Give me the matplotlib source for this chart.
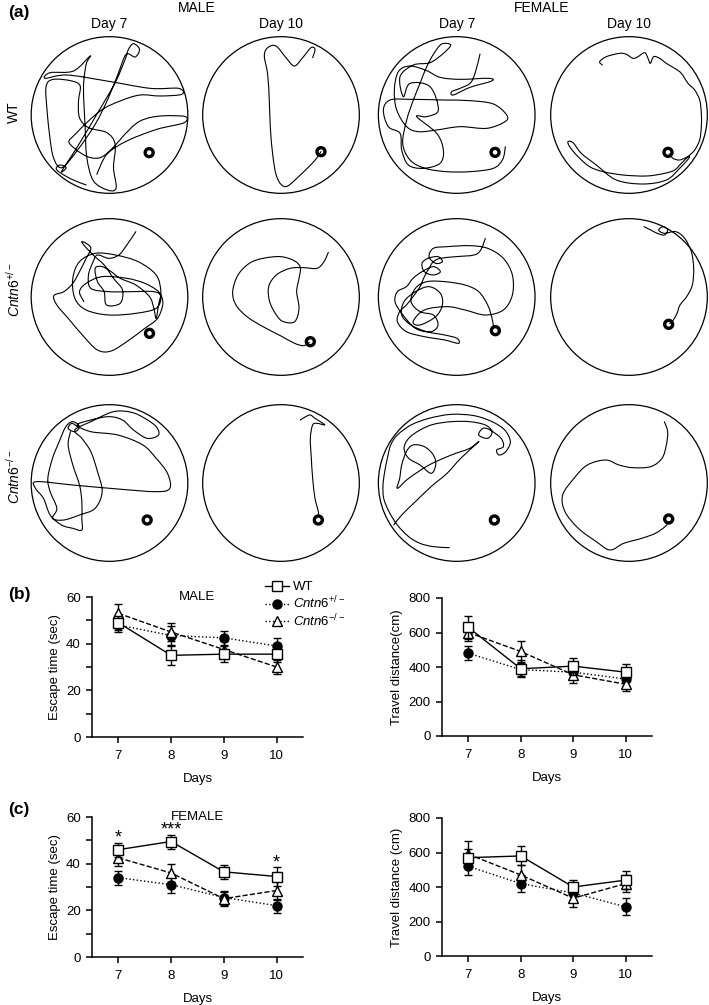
import numpy as np
import matplotlib.pyplot as plt
from matplotlib.path import Path
from matplotlib.patches import Circle, PathPatch
from matplotlib.lines import Line2D

plt.rcParams['font.family'] = ['Liberation Sans', 'DejaVu Sans']
plt.rcParams['mathtext.fontset'] = 'custom'
plt.rcParams['mathtext.rm'] = 'Liberation Sans'
plt.rcParams['mathtext.it'] = 'Liberation Sans:italic'

# ---- (a) swim paths, arena units (pool radius = 235) ----
ARENA_R = 235
wt_m7 = [(-70, -210), (-113, -193), (-148, -173), (-160, -160), (-148, -150), (-130, -158),
         (-143, -168), (-98, -98), (-38, 2), (17, 97), (47, 167), (57, 197), (72, 214),
         (90, 197), (77, 174), (50, 182), (27, 127), (-3, 52), (-43, -28), (-98, -108),
         (-143, -158), (-168, -128), (-180, -58), (-188, 22), (-190, 87), (-168, 107),
         (-113, 102), (-88, 87), (-93, 42), (-90, -8), (-63, -38), (-8, -53), (17, -88),
         (12, -158), (20, -218), (-3, -226), (-48, -198), (-68, -128), (-73, -38), (-78, 82),
         (-70, 152), (-58, 177), (-108, 132), (-178, 127), (-193, 110), (-128, 120), (-8, 102),
         (122, 80), (207, 80), (217, 62), (152, 57), (92, 60), (32, 42), (-28, 12), (-98, -53),
         (-118, -88), (-28, -128), (92, -18), (217, -3), (224, -23), (142, -43), (52, -78),
         (-8, -118), (-38, -178)]
wt_m10 = [(120, -110), (100, -138), (60, -178), (20, -213), (0, -208), (-15, -178), (-25, -118),
          (-32, -38), (-35, 42), (-40, 122), (-50, 177), (-40, 202), (-15, 207), (15, 172),
          (40, 147), (65, 172), (90, 202), (102, 197), (95, 172)]
wt_f7 = [(70, 183), (55, 125), (40, 95), (10, 80), (-15, 70), (-10, 60), (40, 83), (105, 102),
         (95, 110), (10, 107), (-50, 113), (-90, 133), (-140, 147), (-175, 130), (-187, 75),
         (-180, 15), (-150, -35), (-115, -50), (-60, -45), (10, -35), (90, -40), (145, -20),
         (150, 0), (110, 33), (40, 43), (-40, 45), (-140, 47), (-200, 45), (-220, 15),
         (-205, -35), (-170, -55), (-165, -105), (-145, -150), (-100, -160), (-50, -145),
         (-40, -105), (-60, -55), (-120, -5), (-90, -5), (-55, 15), (-80, 85), (-140, 95),
         (-160, 55), (-170, 115), (-130, 150), (-80, 157), (-40, 185), (-18, 210), (-45, 213),
         (-68, 185), (-90, 145), (-110, 95), (-130, 45), (-150, -15), (-162, -85), (-140, -135),
         (-95, -160), (-30, -170), (40, -170), (110, -160), (138, -133), (146, -95)]
wt_f10 = [(-80, 150), (-88, 160), (-68, 175), (-28, 185), (-8, 182), (12, 170), (27, 175),
          (47, 187), (57, 170), (64, 155), (74, 175), (92, 170), (112, 155), (137, 140),
          (157, 125), (177, 95), (197, 75), (212, 45), (217, 5), (217, -35), (212, -75),
          (197, -105), (177, -125), (157, -145), (137, -165), (107, -175), (52, -183),
          (-18, -180), (-78, -170), (-118, -155), (-153, -125), (-178, -95), (-183, -80),
          (-168, -83), (-143, -115), (-98, -150), (-38, -195), (42, -207), (112, -195),
          (152, -160), (182, -125), (152, -135), (132, -130), (122, -117)]
het_m7 = [(79, 196), (52, 156), (28, 126), (-2, 116), (-36, 126), (-49, 106), (-63, 66), (-56, 26),
          (-2, 16), (66, 16), (133, 16), (154, 1), (140, -34), (79, -49), (-2, -54), (-70, -39),
          (-104, -4), (-110, 56), (-90, 106), (-43, 131), (18, 126), (86, 106), (140, 66),
          (154, 16), (147, -24), (140, -64), (133, -34), (120, 1), (79, 36), (32, 56), (5, 76),
          (-22, 91), (-43, 86), (-36, 46), (-16, 16), (-9, -24), (32, -19), (39, 21), (12, 56),
          (-16, 96), (-49, 126), (-77, 156), (-83, 166), (-70, 161), (-56, 146), (-70, 116),
          (-90, 76), (-110, 41), (-137, 16), (-167, 4), (-158, -24), (-124, -64), (-77, -119),
          (-36, -159), (5, -162), (59, -129), (106, -94), (140, -69), (154, -44), (160, -14),
          (147, 16), (106, 41), (52, 56), (-22, 61), (-70, 41), (-90, 16), (-77, -14)]
het_m10 = [(142, 134), (129, 106), (108, 86), (68, 88), (27, 86), (-14, 66), (-37, 31), (-34, -14),
           (-14, -54), (7, -74), (41, -74), (54, -34), (47, 16), (54, 56), (58, 88), (41, 108),
           (0, 121), (-54, 116), (-95, 101), (-129, 66), (-145, 16), (-135, -24), (-102, -59),
           (-54, -89), (0, -117), (41, -139), (68, -146), (85, -136)]
het_f7 = [(86, 176), (72, 141), (52, 126), (-2, 121), (-49, 116), (-70, 106), (-83, 86), (-97, 61),
          (-110, 31), (-131, 1), (-151, -24), (-171, -44), (-178, -74), (-151, -104), (-97, -119),
          (-36, -129), (5, -139), (1, -124), (-36, -114), (-90, -104), (-137, -84), (-165, -54),
          (-158, -14), (-124, 16), (-83, 31), (-49, 11), (-43, -24), (-63, -59), (-110, -84),
          (-131, -74), (-97, -39), (-29, -29), (25, -39), (86, -54), (140, -39), (167, 6),
          (167, 66), (140, 116), (93, 146), (39, 154), (-29, 151), (-70, 146), (-83, 121),
          (-63, 101), (-43, 106), (-56, 121), (-86, 116), (-104, 101), (-97, 76), (-70, 66),
          (-49, 76), (-70, 91), (-104, 76), (-131, 56), (-151, 31), (-178, 16), (-185, -14),
          (-165, -49), (-124, -94), (-77, -104), (-56, -84), (-70, -54), (-110, -44), (-137, -14),
          (-124, 26), (-90, 46), (-36, 46), (25, 36), (66, 16), (93, -24), (106, -64), (110, -88)]
het_f10 = [(45, 211), (65, 201), (85, 191), (106, 186), (116, 201), (103, 211), (89, 201),
           (106, 191), (140, 196), (167, 176), (187, 136), (194, 86), (190, 36), (173, 1),
           (153, -24), (144, -49), (133, -69), (122, -80)]
ko_m7 = [(-97, 169), (-113, 179), (-124, 164), (-104, 154), (-90, 169), (-110, 184), (-131, 169),
         (-151, 124), (-171, 74), (-185, 14), (-178, -26), (-158, -76), (-171, -106), (-137, -111),
         (-90, -96), (-43, -76), (-22, -26), (-36, 34), (-56, 94), (-83, 134), (-104, 159),
         (-56, 184), (12, 214), (66, 212), (106, 194), (140, 169), (147, 144), (113, 134),
         (72, 159), (39, 189), (-2, 199), (-56, 189), (-97, 174), (-56, 154), (25, 144),
         (100, 114), (140, 74), (174, 29), (181, -16), (140, -26), (25, -18), (-110, -6),
         (-219, 4), (-222, -16), (-198, -46), (-178, -96), (-144, -126), (-110, -136),
         (-83, -141), (-83, -106), (-83, -56), (-90, -6), (-110, 54), (-124, 114), (-117, 154)]
ko_m10 = [(58, 189), (74, 199), (88, 204), (102, 194), (118, 184), (131, 174), (108, 179),
          (95, 174), (88, 134), (91, 74), (95, 14), (102, -46), (112, -86), (112, -99)]
ko_f7 = [(-22, -194), (-70, -191), (-110, -181), (-144, -161), (-178, -126), (-203, -86),
         (-219, -46), (-221, -6), (-216, 34), (-208, 74), (-198, 114), (-178, 144), (-137, 174),
         (-83, 194), (-16, 206), (52, 202), (106, 184), (144, 159), (161, 124), (147, 94),
         (127, 84), (120, 99), (140, 109), (133, 134), (100, 159), (79, 164), (66, 144),
         (93, 134), (106, 154), (86, 174), (39, 184), (-16, 184), (-70, 176), (-110, 159),
         (-144, 134), (-158, 104), (-144, 74), (-110, 54), (-77, 29), (-63, 54), (-70, 84),
         (-97, 109), (-131, 114), (-151, 94), (-165, 54), (-171, 14), (-178, -16), (-144, 14),
         (-83, 54), (-16, 84), (39, 104), (66, 124), (12, 74), (-29, 29), (-77, -11),
         (-124, -56), (-165, -96), (-189, -126)]
ko_f10 = [(106, 184), (116, 154), (112, 114), (99, 74), (65, 49), (11, 46), (-30, 54), (-70, 69),
          (-125, 54), (-165, 14), (-199, -36), (-192, -86), (-152, -136), (-98, -176), (-57, -201),
          (-16, -181), (38, -166), (79, -151), (108, -131), (119, -116)]

paths = [[wt_m7, wt_m10, wt_f7, wt_f10],
         [het_m7, het_m10, het_f7, het_f10],
         [ko_m7, ko_m10, ko_f7, ko_f10]]
platforms = [[(119, -113), (120, -110), (115, -112), (117, -112)],
             [(120, -109), (88, -134), (116, -101), (119, -82)],
             [(113, -111), (112, -111), (113, -111), (119, -108)]]

# ---- (b)/(c) learning curves ----
days = [7, 8, 9, 10]
m_esc_wt, m_esc_wt_e = [49, 35, 35.5, 35.5], [3, 4, 3.5, 3.5]
m_esc_het, m_esc_het_e = [48, 43.5, 42.5, 39], [3, 4, 3, 3.5]
m_esc_ko, m_esc_ko_e = [53, 45, 37.5, 30], [4, 4, 3.5, 3]
m_dist_wt, m_dist_wt_e = [630, 390, 405, 370], [65, 50, 50, 50]
m_dist_het, m_dist_het_e = [480, 385, 370, 330], [40, 40, 40, 40]
m_dist_ko, m_dist_ko_e = [600, 490, 355, 300], [50, 60, 45, 40]
f_esc_wt, f_esc_wt_e = [46, 49.5, 36.5, 34.5], [3, 3, 3, 4]
f_esc_het, f_esc_het_e = [34, 31, 25.5, 22], [3, 3.5, 3, 3]
f_esc_ko, f_esc_ko_e = [42.5, 36, 25, 28.5], [3.5, 4, 3, 4]
f_dist_wt, f_dist_wt_e = [570, 580, 400, 440], [50, 55, 40, 50]
f_dist_het, f_dist_het_e = [520, 420, 365, 285], [50, 50, 40, 50]
f_dist_ko, f_dist_ko_e = [590, 470, 335, 420], [75, 60, 50, 50]
star_days = [7, 8, 10]
star_text = ['*', '***', '*']

W, H = 709, 1005
fig = plt.figure(figsize=(W / 100, H / 100), dpi=100)


def px_axes(left, top, width, height):
    return fig.add_axes([left / W, 1 - (top + height) / H, width / W, height / H])


def track_path(pts):
    # cubic Bezier pieces through every waypoint (Catmull-Rom handles)
    p = np.asarray(pts, float)
    p = np.vstack([p[0], p, p[-1]])
    verts = [p[1]]
    codes = [Path.MOVETO]
    for i in range(1, len(p) - 2):
        c1 = p[i] + (p[i + 1] - p[i - 1]) / 6
        c2 = p[i + 1] - (p[i + 2] - p[i]) / 6
        verts += [c1, c2, p[i + 1]]
        codes += [Path.CURVE4] * 3
    return Path(verts, codes)


col_x = [109.5, 281, 456.7, 629]
row_y = [115, 297, 483]
for r in range(3):
    for c in range(4):
        ax = px_axes(col_x[c] - 80, row_y[r] - 80, 160, 160)
        ax.set_xlim(-240, 240)
        ax.set_ylim(-240, 240)
        ax.set_aspect('equal')
        ax.axis('off')
        ax.add_patch(Circle((0, 0), ARENA_R, fill=False, lw=0.9, color='black'))
        ax.add_patch(PathPatch(track_path(paths[r][c]), fill=False, lw=0.8,
                               edgecolor='black', capstyle='round', joinstyle='round'))
        ax.add_patch(Circle(platforms[r][c], 12, fill=False, lw=2.4, color='black'))

fig.text(8 / W, 1 - 13 / H, '(a)', fontsize=12.5, fontweight='bold', va='center')
fig.text(197 / W, 1 - 8 / H, 'MALE', fontsize=10, ha='center', va='center')
fig.text(542 / W, 1 - 8 / H, 'FEMALE', fontsize=10, ha='center', va='center')
for x, lab in zip(col_x, ['Day 7', 'Day 10', 'Day 7', 'Day 10']):
    fig.text(x / W, 1 - 24 / H, lab, fontsize=10, ha='center', va='center')
for y, lab in zip([112, 290, 477], ['WT', r'$\mathit{Cntn6}^{+/-}$', r'$\mathit{Cntn6}^{-/-}$']):
    fig.text(14 / W, 1 - y / H, lab, fontsize=10, ha='center', va='center', rotation=90)


def curve_panel(ax, wt, wt_e, het, het_e, ko, ko_e, ymax, ystep, minor, ylabel):
    kw = dict(color='black', lw=1, ms=6.5, capsize=3.2, elinewidth=1, capthick=1)
    ax.errorbar(days, het, yerr=het_e, marker='o', ls=':', mfc='black', zorder=3, **kw)
    ax.errorbar(days, ko, yerr=ko_e, marker='^', ls='--', mfc='white', zorder=4, **kw)
    ax.errorbar(days, wt, yerr=wt_e, marker='s', ls='-', mfc='white', zorder=5, **kw)
    ax.set_xlim(6.5, 10.5)
    ax.set_ylim(0, ymax)
    ax.set_xticks(days)
    ax.set_yticks(np.arange(0, ymax + 1, ystep))
    if minor:
        ax.set_yticks(np.arange(ystep / 2, ymax, ystep), minor=True)
    for s in ['top', 'right']:
        ax.spines[s].set_visible(False)
    for s in ['left', 'bottom']:
        ax.spines[s].set_linewidth(1.1)
    ax.tick_params(which='both', direction='out', length=4.5, width=1.1, labelsize=9.5)
    ax.tick_params(axis='x', pad=5)
    ax.set_xlabel('Days', fontsize=9.5, labelpad=8)
    ax.set_ylabel(ylabel, fontsize=9.5, labelpad=4)
    return ax


axb1 = curve_panel(px_axes(92, 597, 211, 140), m_esc_wt, m_esc_wt_e, m_esc_het, m_esc_het_e,
                   m_esc_ko, m_esc_ko_e, 60, 20, True, 'Escape time (sec)')
axb1.text(0.5, 1.0, 'MALE', transform=axb1.transAxes, ha='center', va='center', fontsize=9.5)
axb2 = curve_panel(px_axes(442, 598, 210, 138), m_dist_wt, m_dist_wt_e, m_dist_het, m_dist_het_e,
                   m_dist_ko, m_dist_ko_e, 800, 200, False, 'Travel distance(cm)')
axc1 = curve_panel(px_axes(92, 817, 211, 140), f_esc_wt, f_esc_wt_e, f_esc_het, f_esc_het_e,
                   f_esc_ko, f_esc_ko_e, 60, 20, True, 'Escape time (sec)')
axc1.text(0.5, 1.0, 'FEMALE', transform=axc1.transAxes, ha='center', va='center', fontsize=9.5)
axc2 = curve_panel(px_axes(442, 818, 210, 138), f_dist_wt, f_dist_wt_e, f_dist_het, f_dist_het_e,
                   f_dist_ko, f_dist_ko_e, 800, 200, False, 'Travel distance (cm)')

for d, s in zip(star_days, star_text):
    i = days.index(d)
    axc1.annotate(s, xy=(d, f_esc_wt[i] + f_esc_wt_e[i]), xytext=(0, -3),
                  textcoords='offset points', ha='center', va='bottom', fontsize=13)

fig.text(8 / W, 1 - 594 / H, '(b)', fontsize=12.5, fontweight='bold', va='center')
fig.text(8 / W, 1 - 809 / H, '(c)', fontsize=12.5, fontweight='bold', va='center')

handles = [Line2D([], [], color='black', lw=1, ls='-', marker='s', mfc='white', ms=6.5),
           Line2D([], [], color='black', lw=1, ls=':', marker='o', mfc='black', ms=6.5),
           Line2D([], [], color='black', lw=1, ls=':', marker='^', mfc='white', ms=6.5)]
labels = ['WT', r'$\mathit{Cntn6}^{+/-}$', r'$\mathit{Cntn6}^{-/-}$']
fig.legend(handles, labels, loc='upper left', bbox_to_anchor=(265 / W, 1 - 581 / H),
           frameon=False, fontsize=9.5, handlelength=1.8, handletextpad=0.3,
           labelspacing=0.1, borderpad=0, borderaxespad=0)

fig.savefig('out.png', dpi=100)
